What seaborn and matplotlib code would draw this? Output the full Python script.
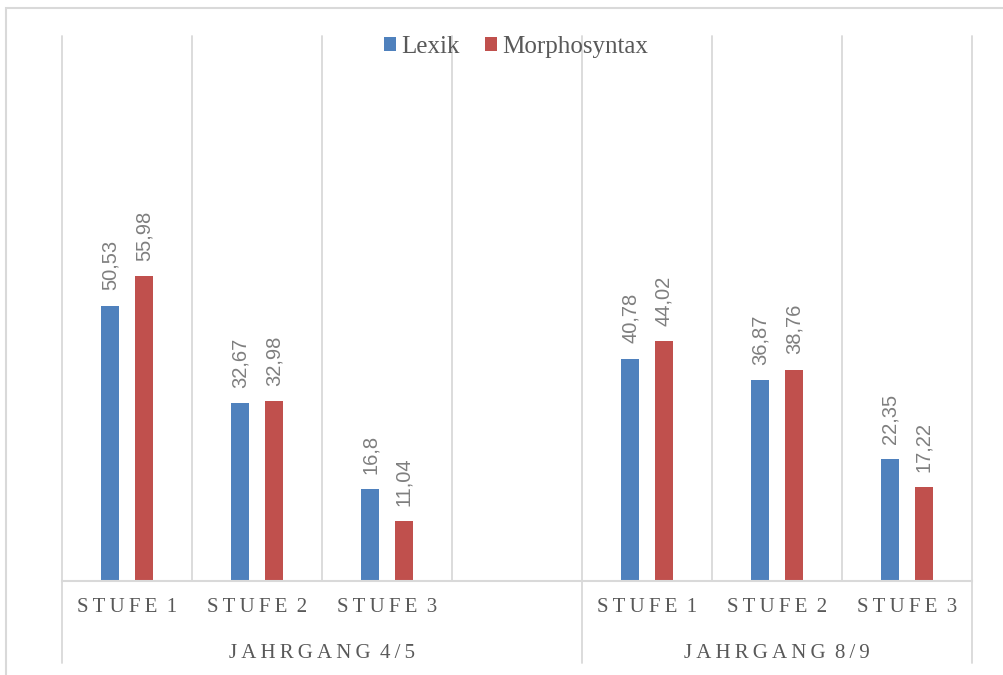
import numpy as np
import pandas as pd
import matplotlib
matplotlib.use("Agg")
import matplotlib.pyplot as plt
import seaborn as sns
from matplotlib.patches import Rectangle
from matplotlib.lines import Line2D

# ---- data ----
slot_keys = ["J45_S1", "J45_S2", "J45_S3", "gap", "J89_S1", "J89_S2", "J89_S3"]
slot_labels = ["STUFE 1", "STUFE 2", "STUFE 3", "", "STUFE 1", "STUFE 2", "STUFE 3"]
group_labels = ["JAHRGANG 4/5", "JAHRGANG 8/9"]
data_keys = ["J45_S1", "J45_S2", "J45_S3", "J89_S1", "J89_S2", "J89_S3"]
lexik = [50.53, 32.67, 16.8, 40.78, 36.87, 22.35]
morpho = [55.98, 32.98, 11.04, 44.02, 38.76, 17.22]
series = ["Lexik", "Morphosyntax"]
colors = ["#4F81BD", "#C0504D"]

df = pd.DataFrame({
    "slot": data_keys * 2,
    "serie": [series[0]] * len(lexik) + [series[1]] * len(morpho),
    "value": lexik + morpho,
})

sns.set_style("white")
plt.rcParams["font.family"] = ["Liberation Serif", "DejaVu Serif"]

W, H = 1004, 675
fig = plt.figure(figsize=(W / 100, H / 100), dpi=100)
ax = fig.add_axes([62 / W, (H - 581) / H, 910 / W, (581 - 36) / H])

sns.barplot(data=df, x="slot", y="value", hue="serie", order=slot_keys,
            hue_order=series, palette=colors, saturation=1, width=0.523,
            gap=0.47, linewidth=0, ax=ax, legend=True)

ax.set_xlim(-0.5, len(slot_keys) - 0.5)
ax.set_ylim(0, 100)
grid_c = "#d9d9d9"
for s in ["left", "right", "top"]:
    ax.spines[s].set_visible(False)
ax.spines["bottom"].set_color(grid_c)
ax.spines["bottom"].set_linewidth(1.5)
ax.set_yticks([])
ax.set_xticks([])
ax.set_xlabel("")
ax.set_ylabel("")

for xb in np.arange(-0.5, len(slot_keys), 1.0):
    ax.axvline(xb, color=grid_c, lw=1.3, zorder=0, clip_on=False)

# lines below axis
trans = ax.get_xaxis_transform()
ybot = -(663 - 581) / (581 - 36)
for xb in [-0.5, 3.5, 6.5]:
    ax.add_line(Line2D([xb, xb], [0, ybot], transform=trans, color=grid_c,
                       lw=1.3, clip_on=False))

# value labels
for cont in ax.containers:
    labs = [f"{p.get_height():g}".replace(".", ",") for p in cont.patches]
    ax.bar_label(cont, labels=labs, rotation=90, padding=11, fontsize=14.5,
                 color="#7f7f7f", family=["Liberation Sans", "DejaVu Sans"])

# category labels (letter-spaced)
TS = "\u2009"
def spaced(s):
    words = s.split(" ")
    return (TS + " ").join(TS.join(list(w)) for w in words)

lab_font = dict(fontsize=15, color="#595959",
                family=["Liberation Serif", "DejaVu Serif"])
ylab = -(608 - 581) / (581 - 36)
for i, lab in enumerate(slot_labels):
    if lab:
        ax.text(i, ylab, spaced(lab), transform=trans, ha="center", va="center",
                **lab_font)
ygrp = -(653 - 581) / (581 - 36)
ax.text(1.5, ygrp, spaced(group_labels[0]), transform=trans, ha="center",
        va="center", **lab_font)
ax.text(5.0, ygrp, spaced(group_labels[1]), transform=trans, ha="center",
        va="center", **lab_font)

# legend
handles, labels = ax.get_legend_handles_labels()
ax.get_legend().remove()
fig.legend(handles, labels, loc="center", bbox_to_anchor=(516 / W, 1 - 47 / H),
           ncol=2, frameon=False, fontsize=18, handlelength=0.5,
           handleheight=0.5, handletextpad=0.2, columnspacing=1.0,
           labelcolor="#595959")

# outer frame
fig.patches.append(Rectangle((6 / W, -0.1), 1.2, 1.1 - 8 / H, transform=fig.transFigure,
                             fill=False, edgecolor=grid_c, lw=1.5))

fig.savefig("out.png", dpi=100)
